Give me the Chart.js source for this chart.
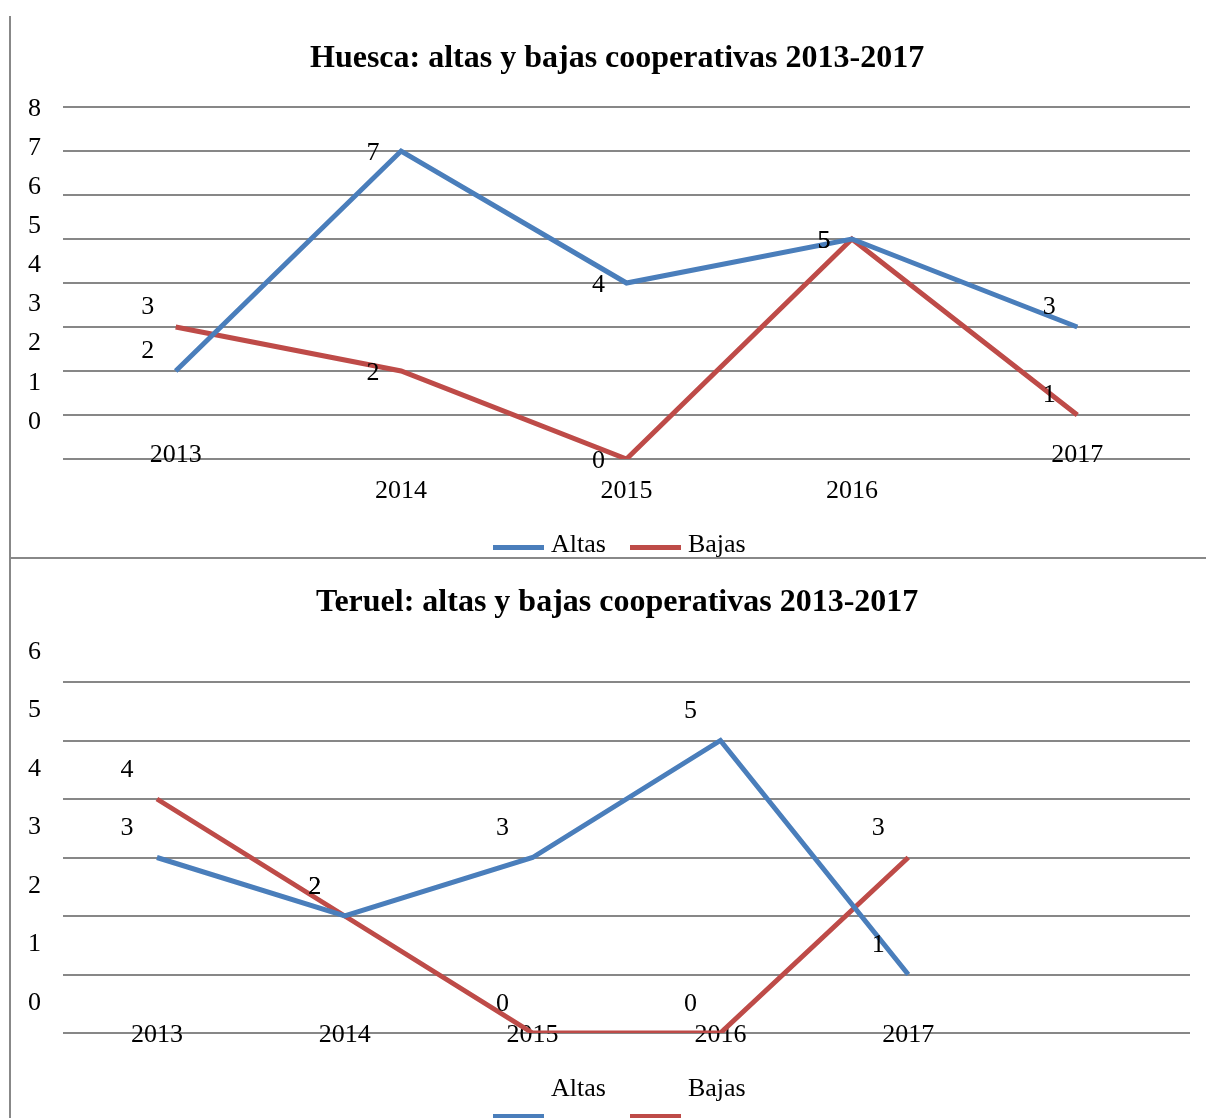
<!DOCTYPE html>
<html lang="es">
<head>
<meta charset="utf-8">
<title>Altas y bajas cooperativas 2013-2017</title>
<script src="https://cdn.jsdelivr.net/npm/chart.js@4/dist/chart.umd.min.js"></script>
<style>
  html, body { margin: 0; padding: 0; background: #fff; }
  body { position: relative; width: 1206px; height: 1118px; overflow: hidden; }
  canvas { position: absolute; left: 0; }
  #huesca { top: 0; }
  #teruel { top: 560px; }
  .rule { position: absolute; background: #888; z-index: 2; }
  .rule-v { left: 9px; top: 16px; width: 2px; height: 1102px; }
  .rule-h { left: 9px; top: 557px; width: 1197px; height: 2px; }
  .title {
    position: absolute; left: 316px; width: 600px; text-align: center; white-space: nowrap;
    font: bold 32px "Liberation Serif", "Times New Roman", serif; line-height: 38px; color: #000;
  }
  .legend {
    position: absolute; left: 493px; white-space: nowrap;
    font: 26px "Liberation Serif", "Times New Roman", serif; line-height: 30px; color: #000;
  }
  .leg-item { display: inline-block; position: relative; padding-left: 58px; margin-right: 24px; height: 30px; }
  .leg-line { position: absolute; left: 0; width: 51px; height: 5px; }
</style>
</head>
<body>
<canvas id="huesca" width="1206" height="557"></canvas>
<canvas id="teruel" width="1206" height="558"></canvas>
<div class="title" style="top:37px;left:310px">Huesca: altas y bajas cooperativas 2013-2017</div>
<div class="title" style="top:581px">Teruel: altas y bajas cooperativas 2013-2017</div>
<div id="leg-huesca" class="legend" style="top:529px"></div>
<div id="leg-teruel" class="legend" style="top:1073px"></div>
<div class="rule rule-v"></div>
<div class="rule rule-h"></div>

<script>
// ─── Data ─────────────────────────────────────────────────────
const years        = ['2013', '2014', '2015', '2016', '2017'];
const huescaAltas  = [2, 7, 4, 5, 3];
const huescaBajas  = [3, 2, 0, 5, 1];
const teruelAltas  = [3, 2, 3, 5, 1];
const teruelBajas  = [4, 2, 0, 0, 3];
const seriesNames  = ['Altas', 'Bajas'];
const seriesColors = ['#4A7EBB', '#BE4B48'];

const GRID = '#878787';
const FONT = '"Liberation Serif", "Times New Roman", serif';

Chart.defaults.font.family = FONT;
Chart.defaults.font.size = 26;
Chart.defaults.color = '#000';

const pick = (v, i) => Array.isArray(v) ? v[i] : v;

// Value labels, drawn to the left of each point
const valueLabels = {
  id: 'valueLabels',
  afterDatasetsDraw(chart, args, opts) {
    const { ctx } = chart;
    ctx.save();
    ctx.font = '26px ' + FONT;
    ctx.fillStyle = '#000';
    ctx.textAlign = 'center';
    ctx.textBaseline = 'middle';
    chart.data.datasets.forEach((ds, di) => {
      chart.getDatasetMeta(di).data.forEach((pt, i) => {
        ctx.fillText(String(ds.data[i]), pt.x + opts.dx, pt.y + pick(opts.dy, i));
      });
    });
    ctx.restore();
  }
};

// Year labels: the built-in ones get clipped to the axis box,
// and in the original they ride on (or above) the bottom gridline
const yearLabels = {
  id: 'yearLabels',
  beforeDatasetsDraw(chart, args, opts) {
    const { ctx, chartArea } = chart;
    const xs = chart.scales.x;
    ctx.save();
    ctx.font = '26px ' + FONT;
    ctx.fillStyle = '#000';
    ctx.textAlign = 'center';
    ctx.textBaseline = 'middle';
    chart.data.labels.forEach((lab, i) => {
      if (!lab) return;
      ctx.fillText(lab, xs.getPixelForValue(i), chartArea.bottom + pick(opts.dy, i));
    });
    ctx.restore();
  }
};

function lineSets(altas, bajas) {
  return [altas, bajas].map((data, i) => ({
    label: seriesNames[i],
    data,
    borderColor: seriesColors[i],
    backgroundColor: seriesColors[i],
    borderWidth: 5,
    pointRadius: 0,
    pointHoverRadius: 0,
    tension: 0,
    fill: false,
  }));
}

function renderLegend(id, markerTop) {
  const el = document.getElementById(id);
  el.innerHTML = seriesNames.map((n, i) =>
    `<span class="leg-item"><span class="leg-line" style="background:${seriesColors[i]};top:${markerTop}px"></span>${n}</span>`
  ).join('');
}

const xAxis = height => ({
  offset: true,
  grid: { display: false, drawTicks: false },
  border: { display: false },
  ticks: { display: false },
  afterFit: s => { s.height = height; },
});

// ─── Huesca ───────────────────────────────────────────────────
new Chart(document.getElementById('huesca'), {
  type: 'line',
  data: { labels: years, datasets: lineSets(huescaAltas, huescaBajas) },
  plugins: [yearLabels, valueLabels],
  options: {
    responsive: false,
    animation: false,
    layout: { padding: { left: 0, right: 16, top: 107, bottom: 0 } },
    plugins: {
      legend: { display: false },
      tooltip: { enabled: false },
      title: { display: false },
      yearLabels: { dy: [-4, 32, 32, 32, -4] },
      valueLabels: { dx: -28, dy: [-20, 2, 2, 2, -20] },
    },
    scales: {
      x: xAxis(98),
      y: {
        min: 0, max: 8,
        ticks: { stepSize: 1, display: false },
        grid: { color: GRID, lineWidth: 2, drawTicks: false },
        border: { display: false },
        afterFit: s => { s.width = 0; },
      },
      // label-only axis: the printed numbers drift off the gridlines
      yl: {
        position: 'left',
        min: -1, max: 8,
        ticks: { stepSize: 1, padding: 22, labelOffset: 2, callback: v => v < 0 ? '' : v },
        grid: { display: false, drawTicks: false },
        border: { display: false },
        afterFit: s => { s.width = 63; },
      },
    },
  },
});

// ─── Teruel ───────────────────────────────────────────────────
new Chart(document.getElementById('teruel'), {
  type: 'line',
  data: { labels: [...years, ''], datasets: lineSets(teruelAltas, teruelBajas) },
  plugins: [yearLabels, valueLabels],
  options: {
    responsive: false,
    animation: false,
    layout: { padding: { left: 0, right: 16, top: 122, bottom: 0 } },
    plugins: {
      legend: { display: false },
      tooltip: { enabled: false },
      title: { display: false },
      yearLabels: { dy: 2 },
      valueLabels: { dx: -30, dy: -29 },
    },
    scales: {
      x: xAxis(85),
      y: {
        min: 0, max: 6,
        ticks: { stepSize: 1, padding: 22, labelOffset: -30 },
        grid: { color: GRID, lineWidth: 2, drawTicks: false },
        border: { display: false },
        afterFit: s => { s.width = 63; },
      },
    },
  },
});

renderLegend('leg-huesca', 16);
renderLegend('leg-teruel', 41);
</script>
</body>
</html>
